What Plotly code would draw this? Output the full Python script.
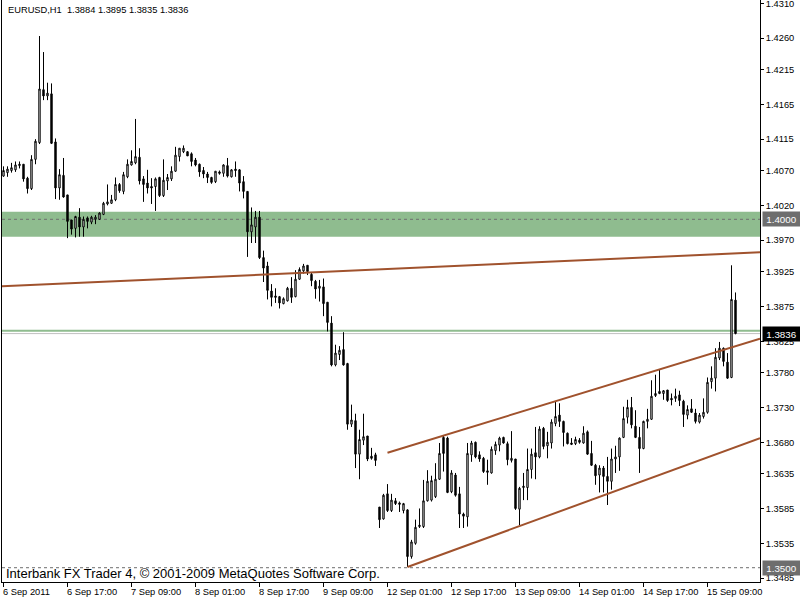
import plotly.graph_objects as go

# ---------------- data (EURUSD H1) ----------------
opens = [1.4062, 1.4067, 1.4070, 1.4071, 1.4077, 1.4079, 1.4059, 1.4044, 1.4086, 1.4110,
         1.4186, 1.4177, 1.4180, 1.4111, 1.4045, 1.4063, 1.4035, 1.3999, 1.3987, 1.4003,
         1.3989, 1.4002, 1.3996, 1.4000, 1.4000, 1.4007, 1.4022, 1.4023, 1.4028, 1.4050,
         1.4040, 1.4061, 1.4078, 1.4081, 1.4089, 1.4058, 1.4052, 1.4047, 1.4047, 1.4060,
         1.4034, 1.4055, 1.4058, 1.4069, 1.4090, 1.4097, 1.4097, 1.4094, 1.4085, 1.4079,
         1.4070, 1.4065, 1.4060, 1.4054, 1.4068, 1.4066, 1.4077, 1.4061, 1.4072, 1.4071,
         1.4054, 1.4040, 1.3982, 1.3989, 1.4003, 1.3945, 1.3933, 1.3897, 1.3890, 1.3889,
         1.3879, 1.3883, 1.3901, 1.3889, 1.3914, 1.3926, 1.3934, 1.3921, 1.3911, 1.3901,
         1.3903, 1.3881, 1.3851, 1.3791, 1.3806, 1.3813, 1.3793, 1.3706, 1.3711, 1.3663,
         1.3683, 1.3689, 1.3660, 1.3662, 1.3587, 1.3570, 1.3606, 1.3582, 1.3596, 1.3593,
         1.3582, 1.3583, 1.3516, 1.3535, 1.3559, 1.3559, 1.3596, 1.3597, 1.3602, 1.3627,
         1.3687, 1.3686, 1.3609, 1.3633, 1.3606, 1.3577, 1.3573, 1.3662, 1.3680, 1.3662,
         1.3657, 1.3639, 1.3636, 1.3668, 1.3676, 1.3687, 1.3678, 1.3654, 1.3656, 1.3584,
         1.3615, 1.3615, 1.3641, 1.3665, 1.3659, 1.3700, 1.3675, 1.3679, 1.3707, 1.3719,
         1.3710, 1.3693, 1.3679, 1.3678, 1.3683, 1.3679, 1.3695, 1.3664, 1.3647, 1.3633,
         1.3643, 1.3631, 1.3624, 1.3656, 1.3659, 1.3687, 1.3716, 1.3730, 1.3703, 1.3687,
         1.3671, 1.3710, 1.3713, 1.3747, 1.3753, 1.3750, 1.3755, 1.3743, 1.3743, 1.3748,
         1.3739, 1.3719, 1.3728, 1.3722, 1.3709, 1.3717, 1.3723, 1.3767, 1.3772, 1.3801,
         1.3815, 1.3795, 1.3773, 1.3884]
highs = [1.4076, 1.4076, 1.4081, 1.4083, 1.4083, 1.4079, 1.4061, 1.4092, 1.4115, 1.4263,
         1.4240, 1.4196, 1.4195, 1.4116, 1.4072, 1.4088, 1.4035, 1.3999, 1.4005, 1.4016,
         1.4004, 1.4004, 1.4005, 1.4006, 1.4010, 1.4025, 1.4050, 1.4035, 1.4060, 1.4052,
         1.4068, 1.4086, 1.4099, 1.4144, 1.4102, 1.4062, 1.4071, 1.4059, 1.4060, 1.4061,
         1.4086, 1.4065, 1.4076, 1.4104, 1.4102, 1.4106, 1.4098, 1.4096, 1.4088, 1.4080,
         1.4075, 1.4068, 1.4061, 1.4069, 1.4070, 1.4079, 1.4088, 1.4072, 1.4083, 1.4072,
         1.4062, 1.4040, 1.4017, 1.4012, 1.4012, 1.3955, 1.3939, 1.3907, 1.3901, 1.3890,
         1.3888, 1.3903, 1.3917, 1.3927, 1.3931, 1.3936, 1.3934, 1.3923, 1.3913, 1.3913,
         1.3915, 1.3881, 1.3861, 1.3820, 1.3818, 1.3838, 1.3794, 1.3734, 1.3721, 1.3698,
         1.3721, 1.3689, 1.3672, 1.3665, 1.3587, 1.3606, 1.3620, 1.3606, 1.3600, 1.3595,
         1.3593, 1.3584, 1.3540, 1.3569, 1.3585, 1.3626, 1.3640, 1.3632, 1.3650, 1.3679,
         1.3689, 1.3688, 1.3640, 1.3636, 1.3616, 1.3579, 1.3679, 1.3682, 1.3681, 1.3667,
         1.3659, 1.3655, 1.3674, 1.3681, 1.3688, 1.3688, 1.3681, 1.3696, 1.3656, 1.3616,
         1.3636, 1.3671, 1.3671, 1.3702, 1.3703, 1.3702, 1.3695, 1.3713, 1.3738, 1.3736,
         1.3711, 1.3694, 1.3686, 1.3688, 1.3686, 1.3703, 1.3697, 1.3682, 1.3649, 1.3647,
         1.3646, 1.3659, 1.3671, 1.3675, 1.3687, 1.3731, 1.3741, 1.3745, 1.3726, 1.3702,
         1.3711, 1.3728, 1.3769, 1.3777, 1.3784, 1.3755, 1.3755, 1.3750, 1.3757, 1.3754,
         1.3741, 1.3733, 1.3742, 1.3728, 1.3722, 1.3743, 1.3773, 1.3789, 1.3815, 1.3824,
         1.3816, 1.3808, 1.3934, 1.3895]
lows = [1.4061, 1.4061, 1.4067, 1.4068, 1.4073, 1.4054, 1.4037, 1.4042, 1.4079, 1.4108,
        1.4171, 1.4171, 1.4108, 1.4029, 1.4028, 1.4031, 1.3973, 1.3978, 1.3974, 1.3975,
        1.3975, 1.3987, 1.3993, 1.3993, 1.3999, 1.4006, 1.4020, 1.4022, 1.4026, 1.4038,
        1.4036, 1.4059, 1.4077, 1.4079, 1.4050, 1.4025, 1.4037, 1.4022, 1.4012, 1.4032,
        1.4032, 1.4042, 1.4055, 1.4068, 1.4083, 1.4095, 1.4091, 1.4076, 1.4076, 1.4061,
        1.4059, 1.4052, 1.4051, 1.4052, 1.4064, 1.4061, 1.4060, 1.4060, 1.4061, 1.4040,
        1.4030, 1.3946, 1.3966, 1.3966, 1.3943, 1.3910, 1.3885, 1.3875, 1.3880, 1.3872,
        1.3878, 1.3882, 1.3880, 1.3888, 1.3913, 1.3922, 1.3920, 1.3904, 1.3886, 1.3882,
        1.3861, 1.3839, 1.3789, 1.3789, 1.3798, 1.3790, 1.3698, 1.3702, 1.3643, 1.3627,
        1.3676, 1.3653, 1.3655, 1.3646, 1.3557, 1.3569, 1.3580, 1.3580, 1.3590, 1.3580,
        1.3578, 1.3501, 1.3513, 1.3533, 1.3557, 1.3557, 1.3595, 1.3595, 1.3600, 1.3626,
        1.3638, 1.3607, 1.3607, 1.3602, 1.3557, 1.3557, 1.3559, 1.3652, 1.3657, 1.3652,
        1.3636, 1.3619, 1.3635, 1.3662, 1.3667, 1.3678, 1.3647, 1.3651, 1.3583, 1.3561,
        1.3597, 1.3597, 1.3628, 1.3627, 1.3657, 1.3670, 1.3657, 1.3671, 1.3703, 1.3702,
        1.3674, 1.3677, 1.3676, 1.3676, 1.3678, 1.3678, 1.3662, 1.3646, 1.3619, 1.3608,
        1.3608, 1.3590, 1.3612, 1.3636, 1.3639, 1.3686, 1.3707, 1.3700, 1.3686, 1.3636,
        1.3670, 1.3700, 1.3712, 1.3745, 1.3749, 1.3741, 1.3738, 1.3733, 1.3738, 1.3732,
        1.3702, 1.3713, 1.3722, 1.3707, 1.3707, 1.3714, 1.3721, 1.3757, 1.3753, 1.3798,
        1.3789, 1.3771, 1.3772, 1.3835]
closes = [1.4070, 1.4072, 1.4074, 1.4078, 1.4079, 1.4058, 1.4044, 1.4086, 1.4112, 1.4187,
          1.4177, 1.4181, 1.4109, 1.4045, 1.4064, 1.4032, 1.3997, 1.3986, 1.4004, 1.3989,
          1.4000, 1.3997, 1.4003, 1.4003, 1.4009, 1.4023, 1.4025, 1.4028, 1.4050, 1.4041,
          1.4064, 1.4079, 1.4083, 1.4090, 1.4055, 1.4050, 1.4045, 1.4045, 1.4058, 1.4034,
          1.4056, 1.4060, 1.4069, 1.4092, 1.4102, 1.4102, 1.4091, 1.4083, 1.4078, 1.4068,
          1.4065, 1.4060, 1.4053, 1.4069, 1.4066, 1.4078, 1.4062, 1.4071, 1.4070, 1.4052,
          1.4040, 1.3982, 1.3992, 1.4003, 1.3945, 1.3930, 1.3898, 1.3888, 1.3888, 1.3880,
          1.3886, 1.3901, 1.3888, 1.3914, 1.3928, 1.3933, 1.3925, 1.3912, 1.3900, 1.3904,
          1.3879, 1.3852, 1.3791, 1.3808, 1.3812, 1.3791, 1.3706, 1.3712, 1.3663, 1.3684,
          1.3688, 1.3656, 1.3657, 1.3654, 1.3569, 1.3604, 1.3582, 1.3597, 1.3592, 1.3591,
          1.3592, 1.3516, 1.3537, 1.3558, 1.3561, 1.3596, 1.3624, 1.3625, 1.3627, 1.3664,
          1.3664, 1.3608, 1.3636, 1.3604, 1.3577, 1.3574, 1.3664, 1.3679, 1.3659, 1.3656,
          1.3638, 1.3637, 1.3670, 1.3677, 1.3686, 1.3679, 1.3655, 1.3657, 1.3585, 1.3614,
          1.3617, 1.3641, 1.3663, 1.3659, 1.3699, 1.3674, 1.3680, 1.3709, 1.3717, 1.3710,
          1.3694, 1.3678, 1.3677, 1.3684, 1.3680, 1.3693, 1.3663, 1.3647, 1.3632, 1.3643,
          1.3631, 1.3624, 1.3656, 1.3659, 1.3686, 1.3714, 1.3730, 1.3705, 1.3687, 1.3671,
          1.3710, 1.3713, 1.3746, 1.3750, 1.3750, 1.3754, 1.3740, 1.3741, 1.3746, 1.3740,
          1.3720, 1.3727, 1.3723, 1.3710, 1.3719, 1.3723, 1.3766, 1.3772, 1.3802, 1.3815,
          1.3796, 1.3772, 1.3885, 1.3836]

# time axis labels: one every 16 hourly bars
label_bars = [0, 16, 32, 48, 64, 80, 96, 112, 128, 144, 160, 176]
label_texts = ["6 Sep 2011", "6 Sep 17:00", "7 Sep 09:00", "8 Sep 01:00", "8 Sep 17:00",
               "9 Sep 09:00", "12 Sep 01:00", "12 Sep 17:00", "13 Sep 09:00",
               "14 Sep 01:00", "14 Sep 17:00", "15 Sep 09:00"]

# price scale labels
price_ticks = [1.4310, 1.4260, 1.4215, 1.4165, 1.4115, 1.4070, 1.4020, 1.3970, 1.3925,
               1.3875, 1.3825, 1.3780, 1.3730, 1.3680, 1.3635, 1.3585, 1.3535, 1.3485]

# chart objects
zone_low, zone_high = 1.3975, 1.4011
dashed_levels = [1.4000, 1.3500]
green_level = 1.3840
bid_price = 1.3836

# trend lines: two anchor points each (bar index, price); first one also extends left
trend_i1 = [0, 96, 101]
trend_p1 = [1.3904, 1.3665, 1.3501]
trend_i2 = [183, 183, 183]
trend_p2 = [1.3951, 1.3818, 1.3673]
trend_extend_left = [True, False, False]

# ---------------- figure ----------------
n = len(opens)
xs = list(range(n))
x_min, x_max = -0.375, 189.125
y_min, y_max = 1.34795, 1.43147

FONT = "Liberation Sans"
BROWN = "#A0522D"
ZONE = "#8FBC8F"
DGRAY = "#6E6E6E"

fig = go.Figure()

fig.add_trace(go.Candlestick(
    x=xs, open=opens, high=highs, low=lows, close=closes,
    increasing=dict(line=dict(color="black", width=1), fillcolor="white"),
    decreasing=dict(line=dict(color="black", width=1), fillcolor="black"),
    whiskerwidth=0, hoverinfo="skip", showlegend=False,
))

for i1, p1, i2, p2, ext in zip(trend_i1, trend_p1, trend_i2, trend_p2, trend_extend_left):
    slope = (p2 - p1) / (i2 - i1)
    xa = x_min if ext else i1
    xb = x_max
    fig.add_trace(go.Scatter(
        x=[xa, xb], y=[p1 + slope * (xa - i1), p1 + slope * (xb - i1)],
        mode="lines", line=dict(color=BROWN, width=2),
        hoverinfo="skip", showlegend=False, cliponaxis=True,
    ))

shapes = [
    dict(type="rect", xref="paper", x0=0, x1=1, yref="y", y0=zone_low, y1=zone_high,
         fillcolor=ZONE, line=dict(width=0), layer="below"),
    dict(type="line", xref="paper", x0=0, x1=1, yref="y", y0=green_level, y1=green_level,
         line=dict(color=ZONE, width=2), layer="below"),
    dict(type="line", xref="paper", x0=0, x1=1, yref="y", y0=bid_price, y1=bid_price,
         line=dict(color="#C0C0C0", width=1), layer="below"),
]
for lv in dashed_levels:
    shapes.append(dict(type="line", xref="paper", x0=0, x1=1, yref="y", y0=lv, y1=lv,
                       line=dict(color=DGRAY, width=1, dash="3px,3px"), layer="below"))

annotations = []
# header
annotations.append(dict(
    xref="paper", yref="paper", x=0, y=1, xanchor="left", yanchor="top",
    xshift=4, yshift=-3, showarrow=False,
    text=f"EURUSD,H1\u00a0 {opens[-1]:.4f} {highs[-1]:.4f} {lows[-1]:.4f} {closes[-1]:.4f}",
    font=dict(family=FONT, size=9.3, color="black"),
))
# copyright
annotations.append(dict(
    xref="paper", yref="paper", x=0, y=0, xanchor="left", yanchor="bottom",
    xshift=2, yshift=-1, showarrow=False,
    text="Interbank FX Trader 4, © 2001-2009 MetaQuotes Software Corp.",
    font=dict(family=FONT, size=13, color="black"),
))
# time labels, left aligned at their tick
for b, t in zip(label_bars, label_texts):
    annotations.append(dict(
        xref="x", yref="paper", x=b, y=0, xanchor="left", yanchor="top",
        xshift=-3, yshift=-3, showarrow=False, text=t,
        font=dict(family=FONT, size=9.3, color="black"),
    ))
# price boxes on the scale
for val, bg in [(dashed_levels[0], DGRAY), (dashed_levels[1], DGRAY), (bid_price, "black")]:
    annotations.append(dict(
        xref="paper", yref="y", x=1, y=val, xanchor="left", yanchor="middle",
        xshift=2, showarrow=False, text=f"{val:.4f}", bgcolor=bg,
        width=33, height=10, borderpad=2,
        font=dict(family=FONT, size=9.8, color="white"),
    ))

fig.update_layout(
    width=800, height=600,
    margin=dict(l=2, r=40, t=0, b=18),
    paper_bgcolor="white", plot_bgcolor="white",
    boxgap=0.5, showlegend=False,
    font=dict(family=FONT, size=9.3, color="black"),
    shapes=shapes, annotations=annotations,
    xaxis=dict(range=[x_min, x_max], showgrid=False, zeroline=False,
               rangeslider=dict(visible=False), showline=True, linecolor="black",
               linewidth=1, ticks="outside", ticklen=4, tickcolor="black",
               tickvals=label_bars, showticklabels=False, fixedrange=True),
    yaxis=dict(range=[y_min, y_max], side="right", showgrid=False, zeroline=False,
               showline=True, mirror=True, linecolor="black", linewidth=1,
               ticks="outside", ticklen=3, tickcolor="black",
               tickvals=price_ticks, tickformat=".4f", automargin=False,
               ticklabeloverflow="allow",
               tickfont=dict(family=FONT, size=9.3, color="black"), fixedrange=True),
)

fig.write_html(
    "out.html",
    config={"displayModeBar": False},
    post_script="document.body.style.margin='0';document.body.style.overflow='hidden';",
)
